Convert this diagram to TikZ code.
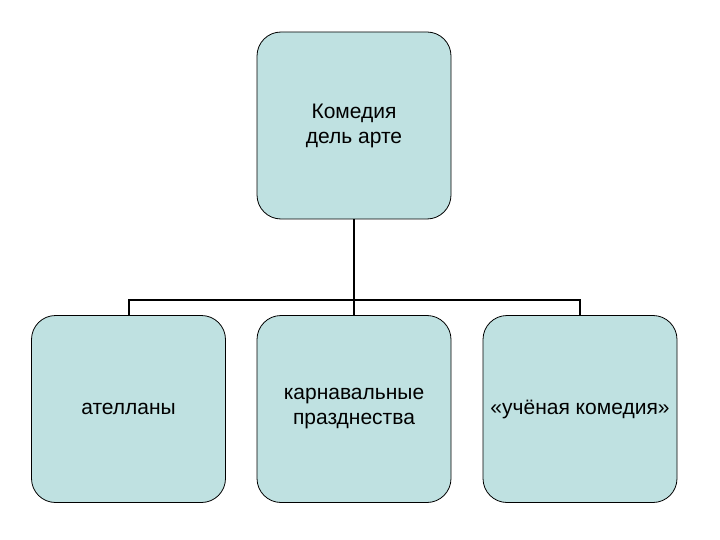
\documentclass[tikz,border=0pt]{standalone}
\usepackage{fontspec}
\setmainfont{Liberation Sans}
\definecolor{boxfill}{HTML}{BFE1E1}
\begin{document}
\begin{tikzpicture}[x=1pt,y=-1pt,
  box/.style={draw=black,line width=0.8pt,fill=boxfill,rounded corners=24pt,minimum width=194pt,minimum height=187pt,align=center,font=\fontsize{21}{25}\selectfont},
  conn/.style={line width=2pt}]
\useasboundingbox (0,0) rectangle (720,540);
\node[box] (top) at (354,125.5) {Комедия\\дель арте};
\node[box] (a) at (128.5,409) {ателланы};
\node[box] (b) at (354,409) {карнавальные\\празднества};
\node[box] (c) at (580,409) {«учёная комедия»};
\coordinate (j) at (354,300);
\draw[conn] (top.south) -- (b.north);
\draw[conn] (a.north) |- (j) -| (c.north);
\end{tikzpicture}
\end{document}
